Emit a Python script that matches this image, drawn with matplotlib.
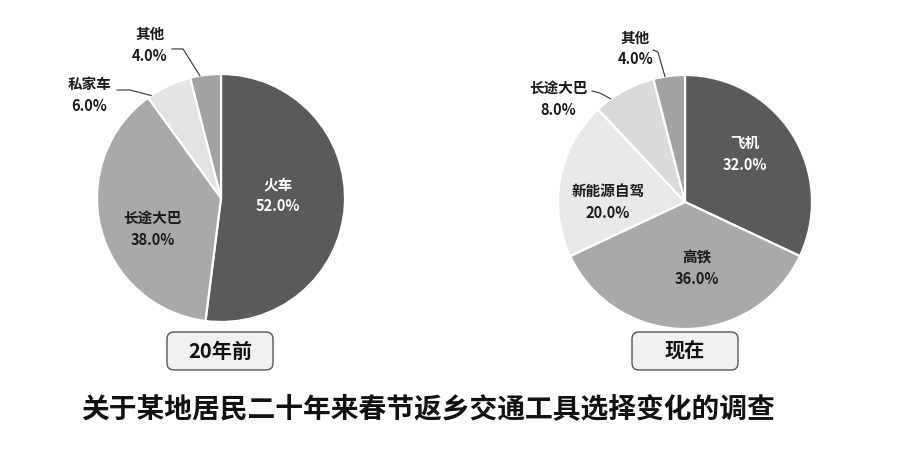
import matplotlib
matplotlib.use("Agg")
import matplotlib.pyplot as plt
from matplotlib.patches import FancyBboxPatch
import numpy as np

plt.rcParams['font.family'] = ['Noto Sans CJK SC', 'DejaVu Sans']

# ---- data ----
before_labels = ["火车", "长途大巴", "私家车", "其他"]
before_values = [52.0, 38.0, 6.0, 4.0]
now_labels = ["飞机", "高铁", "新能源自驾", "长途大巴", "其他"]
now_values = [32.0, 36.0, 20.0, 8.0, 4.0]
panel_titles = ["20年前", "现在"]
main_title = "关于某地居民二十年来春节返乡交通工具选择变化的调查"

# ---- style ----
before_colors = ["#5a5a5a", "#a9a9a9", "#e3e3e3", "#a2a2a2"]
now_colors = ["#5a5a5a", "#a9a9a9", "#e8e8e8", "#dadada", "#a2a2a2"]

W, H = 909, 461
fig = plt.figure(figsize=(W / 100, H / 100), dpi=100)
fig.patch.set_facecolor("white")


def pie_axes(cx, cy, r):
    return fig.add_axes([(cx - r) / W, (H - cy - r) / H, 2 * r / W, 2 * r / H])


def draw_pie(ax, labels, values, colors, inside_pos, outside):
    wedges, _ = ax.pie(values, colors=colors, startangle=90, counterclock=False,
                       radius=1.0, wedgeprops=dict(edgecolor="white", linewidth=1.6))
    ax.set_xlim(-1, 1)
    ax.set_ylim(-1, 1)
    ax.set_aspect("auto")
    ax.axis("off")
    for i, (lab, val) in enumerate(zip(labels, values)):
        txt = f"{lab}\n{val:.1f}%"
        if i in inside_pos:
            x, y = inside_pos[i]
            col = "white" if colors[i] == "#5a5a5a" else "#1a1a1a"
            ax.text(x, y, txt, ha="center", va="center", fontsize=10.5,
                    fontweight="bold", color=col, linespacing=1.45, clip_on=False)
        else:
            (lx, ly), f, elbow, end = outside[i]
            w = wedges[i]
            ang = np.deg2rad(w.theta1 + f * (w.theta2 - w.theta1))
            ex, ey = np.cos(ang), np.sin(ang)
            ax.plot([ex, elbow[0], end[0]], [ey, elbow[1], end[1]],
                    color="#333333", lw=0.8, clip_on=False)
            ax.text(lx, ly, txt, ha="center", va="center", fontsize=10.5,
                    fontweight="bold", color="#1a1a1a", linespacing=1.45,
                    clip_on=False)


ax1 = pie_axes(221, 198, 124)
draw_pie(ax1, before_labels, before_values, before_colors,
         inside_pos={0: (0.46, 0.02), 1: (-0.55, -0.25)},
         outside={2: ((-1.06, 0.83), 0.92, (-0.734, 0.871), (-0.839, 0.871)),
                  3: ((-0.573, 1.234), 0.68, (-0.306, 1.202), (-0.395, 1.202))})

ax2 = pie_axes(685, 202, 127)
draw_pie(ax2, now_labels, now_values, now_colors,
         inside_pos={0: (0.47, 0.38), 1: (0.094, -0.52), 2: (-0.606, 0.0)},
         outside={3: ((-1.0, 0.81), 0.74, (-0.67, 0.858), (-0.732, 0.874)),
                  4: ((-0.39, 1.21), 0.63, (-0.213, 1.18), (-0.252, 1.197))})

# overlay axes in pixel coordinates
ov = fig.add_axes([0, 0, 1, 1])
ov.set_xlim(0, W)
ov.set_ylim(H, 0)
ov.axis("off")
ov.patch.set_alpha(0)

for (cx, t) in zip([220, 685], panel_titles):
    bw, bh = 106, 38
    box = FancyBboxPatch((cx - bw / 2, 332), bw, bh,
                         boxstyle="round,pad=0,rounding_size=7",
                         facecolor="#f1f1f1", edgecolor="#555555", lw=1.0)
    ov.add_patch(box)
    ov.text(cx, 351, t, ha="center", va="center", fontsize=14.5,
            fontweight="bold", color="#111111")

ov.text(428, 410, main_title, ha="center", va="center", fontsize=20,
        fontweight="bold", color="#111111")

fig.savefig("out.png", dpi=100, facecolor="white")
